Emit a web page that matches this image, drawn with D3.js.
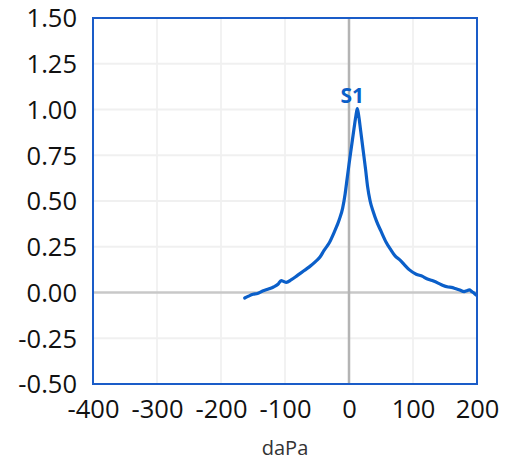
<!DOCTYPE html>
<html>
<head>
<meta charset="utf-8">
<script src="https://cdn.jsdelivr.net/npm/d3@7"></script>
<style>
  html, body { margin: 0; padding: 0; background: #fff; }
  svg { display: block; }
</style>
</head>
<body>
<svg id="chart" width="508" height="463"></svg>
<script>
// Data
const pressure = [-163,-157,-150,-143,-135,-125,-118,-111,-106,-102,-98,-90,-80,-70,-62,-52,-45,-39,-31,-23,-15,-10,-6,-3,0,4,8,11,13,15,18,22,26,29,33,38,43,50,58,65,72,79,87,94,105,115,120,130,140,146,155,160,166,172,180,184,188,192,196,199];
const admittance = [-0.03,-0.02,-0.01,-0.005,0.008,0.02,0.03,0.045,0.065,0.06,0.055,0.07,0.095,0.12,0.14,0.17,0.195,0.23,0.27,0.33,0.40,0.46,0.54,0.62,0.70,0.80,0.90,0.97,1.005,0.97,0.89,0.78,0.67,0.58,0.50,0.44,0.39,0.335,0.275,0.235,0.20,0.18,0.15,0.125,0.10,0.088,0.078,0.065,0.05,0.04,0.03,0.028,0.022,0.015,0.005,0.01,0.014,0.005,-0.005,-0.015];
const xTicks = [-400,-300,-200,-100,0,100,200];
const yTicks = [-0.5,-0.25,0,0.25,0.5,0.75,1.0,1.25,1.5];
const peakLabel = "S1";
const peakX = 13, peakY = 1.005;
const xLabel = "daPa";

const svg = d3.select("#chart");
const pL = 93, pR = 477, pT = 18, pB = 384;
const x = d3.scaleLinear().domain([-400, 200]).range([pL, pR]);
const y = d3.scaleLinear().domain([-0.5, 1.5]).range([pB, pT]);
const font = "'Open Sans', 'Noto Sans', sans-serif";
const hyph = f => d => f(d).replace("\u2212", "-");

// Grid
svg.append("g").selectAll("line").data(xTicks.filter(d => d !== 0 && d !== -400 && d !== 200))
  .join("line").attr("x1", d => x(d)).attr("x2", d => x(d)).attr("y1", pT).attr("y2", pB)
  .attr("stroke", "#f2f2f2").attr("stroke-width", 2);
svg.append("g").selectAll("line").data(yTicks.filter(d => d !== 0 && d !== -0.5 && d !== 1.5))
  .join("line").attr("x1", pL).attr("x2", pR).attr("y1", d => y(d)).attr("y2", d => y(d))
  .attr("stroke", "#f0f0f0").attr("stroke-width", 2);

// zero lines
svg.append("line").attr("x1", pL).attr("x2", pR).attr("y1", y(0)).attr("y2", y(0))
  .attr("stroke", "#c8c8c8").attr("stroke-width", 2.5);
svg.append("line").attr("x1", x(0)).attr("x2", x(0)).attr("y1", pT).attr("y2", pB)
  .attr("stroke", "#b4b4b4").attr("stroke-width", 2.5);

// Curve
const line = d3.line().x((d, i) => x(pressure[i])).y(d => y(d)).curve(d3.curveMonotoneX);
svg.append("path").datum(admittance).attr("d", line)
  .attr("fill", "none").attr("stroke", "#0b5fc9").attr("stroke-width", 3.2)
  .attr("stroke-linejoin", "round").attr("stroke-linecap", "round");

// Border
svg.append("rect").attr("x", pL).attr("y", pT).attr("width", pR - pL).attr("height", pB - pT)
  .attr("fill", "none").attr("stroke", "#1a5cc8").attr("stroke-width", 2);

// Axes (labels only)
const yAxis = d3.axisLeft(y).tickValues(yTicks).tickFormat(hyph(d3.format(".2f"))).tickSize(0).tickPadding(16);
const gy = svg.append("g").attr("transform", `translate(${pL},0)`).call(yAxis);
gy.select(".domain").remove();
gy.selectAll("text").attr("font-family", font).attr("font-size", 25.5).attr("fill", "#111").attr("dy", "0.35em");

const xAxis = d3.axisBottom(x).tickValues(xTicks).tickFormat(hyph(d3.format("d"))).tickSize(0).tickPadding(16);
const gx = svg.append("g").attr("transform", `translate(0,${pB})`).call(xAxis);
gx.select(".domain").remove();
gx.selectAll("text").attr("font-family", font).attr("font-size", 25.5).attr("fill", "#111").attr("dy", "0.71em");

svg.append("text").attr("x", (pL + pR) / 2).attr("y", 455).attr("text-anchor", "middle")
  .attr("font-family", font).attr("font-size", 20).attr("fill", "#333").text(xLabel);

svg.append("text").attr("x", x(peakX) - 5).attr("y", y(peakY) - 6).attr("text-anchor", "middle")
  .attr("font-family", font).attr("font-weight", "bold").attr("font-size", 21).attr("fill", "#0b5fc9").text(peakLabel);
</script>
</body>
</html>
